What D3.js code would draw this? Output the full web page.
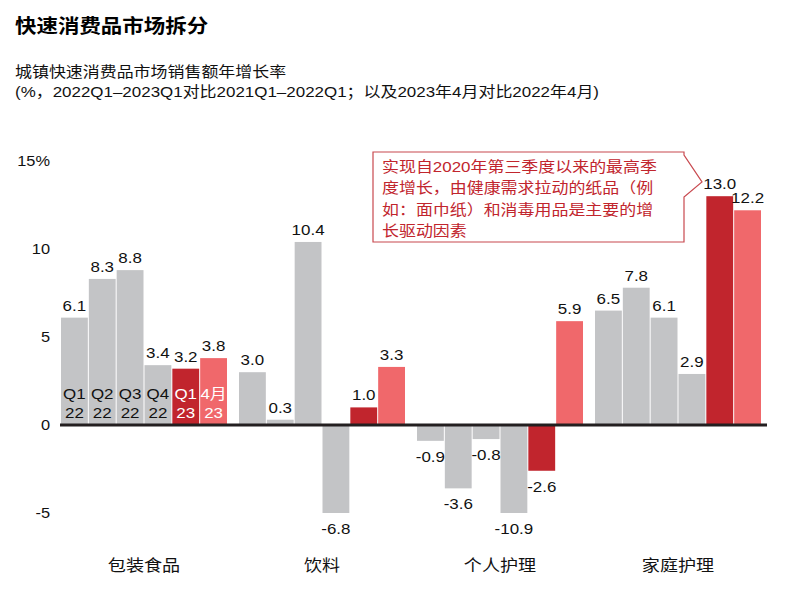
<!DOCTYPE html>
<html>
<head>
<meta charset="utf-8">
<script src="https://cdn.jsdelivr.net/npm/d3@7"></script>
<style>
  body { margin: 0; background: #fff; }
  svg text {
    font-family: "Liberation Sans", "Noto Sans CJK SC", Arial, sans-serif;
    transform-box: fill-box;
    transform-origin: center;
    transform: scaleX(1.13);
  }
  svg text.left { transform-origin: left center; }
  svg text.right, .y-axis text { transform-origin: right center; }
</style>
</head>
<body>
<div id="chart"></div>
<script>
// data
const groups = ["包装食品", "饮料", "个人护理", "家庭护理"];
const periods = ["Q1 22", "Q2 22", "Q3 22", "Q4 22", "Q1 23", "4月 23"];
const periodTop = ["Q1", "Q2", "Q3", "Q4", "Q1", "4月"];
const periodBottom = ["22", "22", "22", "22", "23", "23"];
const foodValues = [6.1, 8.3, 8.8, 3.4, 3.2, 3.8];
const drinkValues = [3.0, 0.3, 10.4, -6.8, 1.0, 3.3];
const personalValues = [-0.9, -3.6, -0.8, -10.9, -2.6, 5.9];
const homeValues = [6.5, 7.8, 6.1, 2.9, 13.0, 12.2];
const yTicks = [-5, 0, 5, 10, 15];
const noteLines = [
    "实现自2020年第三季度以来的最高季",
    "度增长，由健康需求拉动的纸品（例",
    "如：面巾纸）和消毒用品是主要的增",
    "长驱动因素"
];

const seriesByGroup = [foodValues, drinkValues, personalValues, homeValues];
const colors = ["#c3c4c6", "#c3c4c6", "#c3c4c6", "#c3c4c6", "#c1252d", "#f0686b"];

const width = 794, height = 596;

const svg = d3.select("#chart").append("svg")
    .attr("width", width)
    .attr("height", height);

// scales
const x0 = d3.scaleBand().domain(groups).range([61, 773]).paddingInner(0);
const x1 = d3.scaleBand().domain(periods).range([0, 166]).paddingInner(0.036);
const y = d3.scaleLinear().domain([-5, 15]).range([513, 161]);

// titles
svg.append("text")
    .attr("class", "left")
    .attr("x", 15).attr("y", 33)
    .attr("font-size", 19).attr("font-weight", "bold")
    .attr("fill", "#000")
    .text("快速消费品市场拆分");

svg.append("text")
    .attr("class", "left")
    .attr("x", 15).attr("y", 77)
    .attr("font-size", 15).attr("fill", "#111")
    .text("城镇快速消费品市场销售额年增长率");

svg.append("text")
    .attr("class", "left")
    .attr("x", 15).attr("y", 97)
    .attr("font-size", 15).attr("fill", "#111")
    .text("(%，2022Q1–2023Q1对比2021Q1–2022Q1；以及2023年4月对比2022年4月)");

// y axis (labels only)
const yAxis = d3.axisLeft(y)
    .tickValues(yTicks)
    .tickSize(0)
    .tickPadding(0)
    .tickFormat(d => d === 15 ? "15%" : d);

svg.append("g")
    .attr("class", "y-axis")
    .attr("transform", "translate(50,0)")
    .call(yAxis)
    .call(g => g.select(".domain").remove())
    .call(g => g.selectAll("text")
        .attr("font-size", 14.5)
        .attr("fill", "#111"));

// bars
const rows = [];
groups.forEach((g, gi) => {
    seriesByGroup[gi].forEach((v, pi) => {
        rows.push({group: g, period: periods[pi], pi: pi, value: v});
    });
});

const yMin = y.domain()[0];
const barY0 = d => y(Math.max(0, d.value));
const barY1 = d => y(Math.max(yMin, Math.min(0, d.value)));

svg.append("g").selectAll("rect")
    .data(rows)
    .join("rect")
    .attr("x", d => x0(d.group) + x1(d.period))
    .attr("width", x1.bandwidth())
    .attr("y", barY0)
    .attr("height", d => barY1(d) - barY0(d))
    .attr("fill", d => colors[d.pi]);

// value labels
svg.append("g").selectAll("text")
    .data(rows)
    .join("text")
    .attr("x", d => x0(d.group) + x1(d.period) + x1.bandwidth() / 2)
    .attr("y", d => d.value >= 0 ? barY0(d) - 7 : barY1(d) + 21)
    .attr("text-anchor", "middle")
    .attr("font-size", 15)
    .attr("fill", "#111")
    .text(d => d.value.toFixed(1));

// period labels inside first group
const inner = svg.append("g");
periods.forEach((p, pi) => {
    const cx = x0(groups[0]) + x1(p) + x1.bandwidth() / 2;
    const fill = pi >= 4 ? "#fff" : "#111";
    inner.append("text")
        .attr("x", cx).attr("y", 399)
        .attr("text-anchor", "middle")
        .attr("font-size", 15).attr("fill", fill)
        .text(periodTop[pi]);
    inner.append("text")
        .attr("x", cx).attr("y", 418)
        .attr("text-anchor", "middle")
        .attr("font-size", 15).attr("fill", fill)
        .text(periodBottom[pi]);
});

// zero line
svg.append("line")
    .attr("x1", 60).attr("x2", 767)
    .attr("y1", y(0)).attr("y2", y(0))
    .attr("stroke", "#231f20")
    .attr("stroke-width", 3);

// category labels
svg.append("g").selectAll("text")
    .data(groups)
    .join("text")
    .attr("x", d => x0(d) + 83)
    .attr("y", 571)
    .attr("text-anchor", "middle")
    .attr("font-size", 16)
    .attr("fill", "#111")
    .text(d => d);

// annotation callout
const bx0 = 373, bx1 = 684, by0 = 152, by1 = 242;
const tip = [702, 182];
svg.append("path")
    .attr("d", `M${bx0},${by0} H${bx1} V${by0 + 3} L${tip[0]},${tip[1]} L${bx1},${by0 + 45} V${by1} H${bx0} Z`)
    .attr("fill", "#fff")
    .attr("stroke", "#c8494f")
    .attr("stroke-width", 1.2);

svg.append("g").selectAll("text")
    .data(noteLines)
    .join("text")
    .attr("class", "left")
    .attr("x", 382)
    .attr("y", (d, i) => 172 + i * 21.5)
    .attr("font-size", 15)
    .attr("fill", "#c1252d")
    .text(d => d);
</script>
</body>
</html>
